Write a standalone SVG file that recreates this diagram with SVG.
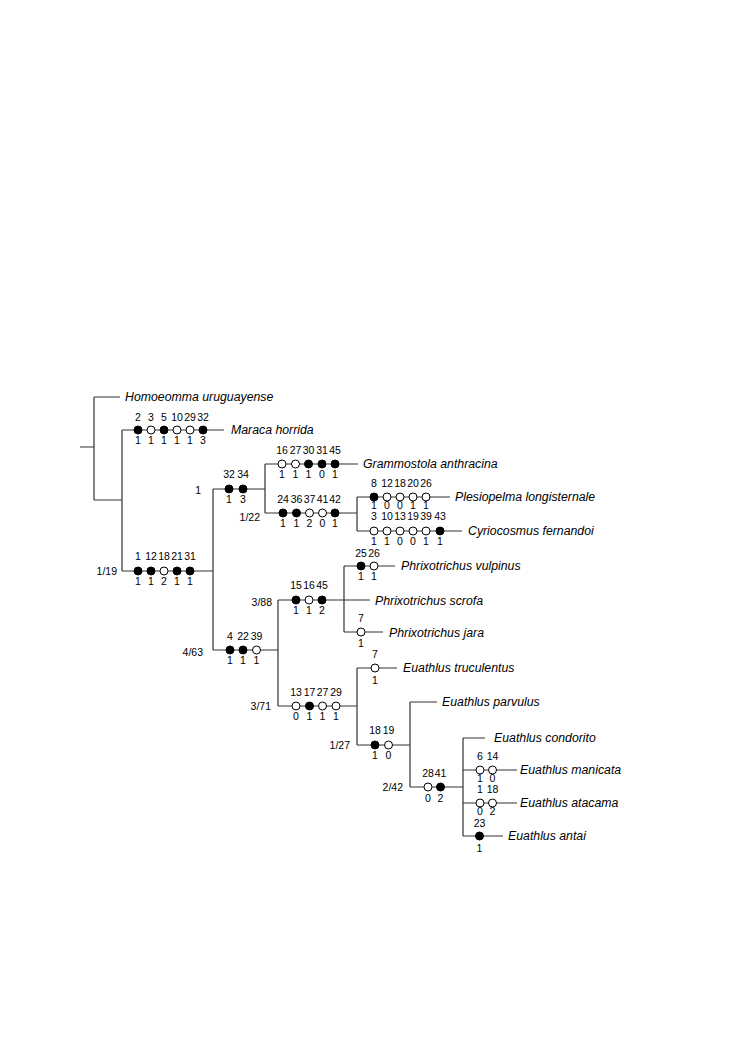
<svg xmlns="http://www.w3.org/2000/svg" width="740" height="1054" viewBox="0 0 740 1054">
<style>
.ln{fill:none;stroke:#333;stroke-width:1.2}
.f{fill:#000;stroke:#000;stroke-width:1}
.o{fill:#fff;stroke:#000;stroke-width:1}
.t{font-family:"Liberation Sans",Arial,sans-serif;font-style:italic;font-size:12.3px;fill:#000}
.n{font-family:"Liberation Sans",Arial,sans-serif;font-size:10.5px;fill:#000;text-anchor:middle}
.c{font-family:"Liberation Sans",Arial,sans-serif;font-size:10.5px;fill:#000;text-anchor:end}
</style>
<rect width="740" height="1054" fill="#fff"/>
<g id="connectors" class="ln">
<path d="M80,447H94M94,397V500M94,397H120M94,500H122M122,430V571M122,430H224M122,571H213"/>
<path d="M213,489V650M213,489H265M265,464V513M265,464H358M265,513H357M357,497V531M357,497H450M357,531H462"/>
<path d="M213,650H278M278,600V706M278,600H370M344,566V632M344,566H395M344,632H383"/>
<path d="M278,706H357M357,668V745M357,668H397M357,745H410M410,702V787M410,702H437M410,787H463"/>
<path d="M463,738V836M463,738H485M463,770H517M463,803H517M463,836H503"/>
</g>
<g id="homoeomma"><text class="t" x="125" y="401">Homoeomma uruguayense</text></g>
<g id="maraca">
<circle class="f" cx="138" cy="430" r="4"/><circle class="o" cx="151" cy="430" r="4"/><circle class="f" cx="164" cy="430" r="4"/><circle class="o" cx="177" cy="430" r="4"/><circle class="o" cx="190" cy="430" r="4"/><circle class="f" cx="203" cy="430" r="4"/>
<text class="n" y="421"><tspan x="138">2</tspan><tspan x="151">3</tspan><tspan x="164">5</tspan><tspan x="177">10</tspan><tspan x="190">29</tspan><tspan x="203">32</tspan></text>
<text class="n" y="444"><tspan x="138">1</tspan><tspan x="151">1</tspan><tspan x="164">1</tspan><tspan x="177">1</tspan><tspan x="190">1</tspan><tspan x="203">3</tspan></text>
<text class="t" x="231" y="434">Maraca horrida</text>
</g>
<g id="clade-1-19">
<circle class="f" cx="138" cy="571" r="4"/><circle class="f" cx="151" cy="571" r="4"/><circle class="o" cx="164" cy="571" r="4"/><circle class="f" cx="177" cy="571" r="4"/><circle class="f" cx="190" cy="571" r="4"/>
<text class="n" y="560"><tspan x="138">1</tspan><tspan x="151">12</tspan><tspan x="164">18</tspan><tspan x="177">21</tspan><tspan x="190">31</tspan></text>
<text class="n" y="585"><tspan x="138">1</tspan><tspan x="151">1</tspan><tspan x="164">2</tspan><tspan x="177">1</tspan><tspan x="190">1</tspan></text>
<text class="c" x="117" y="575">1/19</text>
</g>
<g id="clade-1">
<circle class="f" cx="229" cy="489" r="4"/><circle class="f" cx="243" cy="489" r="4"/>
<text class="n" y="478"><tspan x="229">32</tspan><tspan x="243">34</tspan></text>
<text class="n" y="503"><tspan x="229">1</tspan><tspan x="243">3</tspan></text>
<text class="c" x="201" y="494">1</text>
</g>
<g id="grammostola">
<circle class="o" cx="282" cy="464" r="4"/><circle class="o" cx="295.5" cy="464" r="4"/><circle class="f" cx="308.5" cy="464" r="4"/><circle class="f" cx="322" cy="464" r="4"/><circle class="f" cx="335" cy="464" r="4"/>
<text class="n" y="454"><tspan x="282">16</tspan><tspan x="295.5">27</tspan><tspan x="308.5">30</tspan><tspan x="322">31</tspan><tspan x="335">45</tspan></text>
<text class="n" y="478"><tspan x="282">1</tspan><tspan x="295.5">1</tspan><tspan x="308.5">1</tspan><tspan x="322">0</tspan><tspan x="335">1</tspan></text>
<text class="t" x="363" y="468">Grammostola anthracina</text>
</g>
<g id="clade-1-22">
<circle class="f" cx="283" cy="513" r="4"/><circle class="f" cx="296.5" cy="513" r="4"/><circle class="o" cx="309.5" cy="513" r="4"/><circle class="o" cx="322.5" cy="513" r="4"/><circle class="f" cx="335" cy="513" r="4"/>
<text class="n" y="503"><tspan x="283">24</tspan><tspan x="296.5">36</tspan><tspan x="309.5">37</tspan><tspan x="322.5">41</tspan><tspan x="335">42</tspan></text>
<text class="n" y="527"><tspan x="283">1</tspan><tspan x="296.5">1</tspan><tspan x="309.5">2</tspan><tspan x="322.5">0</tspan><tspan x="335">1</tspan></text>
<text class="c" x="260" y="521">1/22</text>
</g>
<g id="plesiopelma">
<circle class="f" cx="374" cy="497" r="4"/><circle class="o" cx="387" cy="497" r="4"/><circle class="o" cx="400" cy="497" r="4"/><circle class="o" cx="413" cy="497" r="4"/><circle class="o" cx="426" cy="497" r="4"/>
<text class="n" y="487"><tspan x="374">8</tspan><tspan x="387">12</tspan><tspan x="400">18</tspan><tspan x="413">20</tspan><tspan x="426">26</tspan></text>
<text class="n" y="509"><tspan x="374">1</tspan><tspan x="387">0</tspan><tspan x="400">0</tspan><tspan x="413">1</tspan><tspan x="426">1</tspan></text>
<text class="t" x="455" y="501">Plesiopelma longisternale</text>
</g>
<g id="cyriocosmus">
<circle class="o" cx="374" cy="531" r="4"/><circle class="o" cx="387" cy="531" r="4"/><circle class="o" cx="400" cy="531" r="4"/><circle class="o" cx="413" cy="531" r="4"/><circle class="o" cx="426" cy="531" r="4"/><circle class="f" cx="440" cy="531" r="4"/>
<text class="n" y="520"><tspan x="374">3</tspan><tspan x="387">10</tspan><tspan x="400">13</tspan><tspan x="413">19</tspan><tspan x="426">39</tspan><tspan x="440">43</tspan></text>
<text class="n" y="545"><tspan x="374">1</tspan><tspan x="387">1</tspan><tspan x="400">0</tspan><tspan x="413">0</tspan><tspan x="426">1</tspan><tspan x="440">1</tspan></text>
<text class="t" x="468" y="535">Cyriocosmus fernandoi</text>
</g>
<g id="clade-4-63">
<circle class="f" cx="230" cy="650" r="4"/><circle class="f" cx="243" cy="650" r="4"/><circle class="o" cx="256.5" cy="650" r="4"/>
<text class="n" y="640"><tspan x="230">4</tspan><tspan x="243">22</tspan><tspan x="256.5">39</tspan></text>
<text class="n" y="664"><tspan x="230">1</tspan><tspan x="243">1</tspan><tspan x="256.5">1</tspan></text>
<text class="c" x="203" y="656">4/63</text>
</g>
<g id="clade-3-88">
<circle class="f" cx="296" cy="600" r="4"/><circle class="o" cx="309" cy="600" r="4"/><circle class="f" cx="322" cy="600" r="4"/>
<text class="n" y="589"><tspan x="296">15</tspan><tspan x="309">16</tspan><tspan x="322">45</tspan></text>
<text class="n" y="614"><tspan x="296">1</tspan><tspan x="309">1</tspan><tspan x="322">2</tspan></text>
<text class="c" x="272" y="606">3/88</text>
</g>
<g id="vulpinus">
<circle class="f" cx="361" cy="566" r="4"/><circle class="o" cx="374" cy="566" r="4"/>
<text class="n" y="557"><tspan x="361">25</tspan><tspan x="374">26</tspan></text>
<text class="n" y="580"><tspan x="361">1</tspan><tspan x="374">1</tspan></text>
<text class="t" x="401" y="570">Phrixotrichus vulpinus</text>
</g>
<g id="scrofa"><text class="t" x="375" y="605">Phrixotrichus scrofa</text></g>
<g id="jara">
<circle class="o" cx="361" cy="632" r="4"/>
<text class="n" x="361" y="622">7</text>
<text class="n" x="361" y="647">1</text>
<text class="t" x="389" y="637">Phrixotrichus jara</text>
</g>
<g id="clade-3-71">
<circle class="o" cx="296" cy="706" r="4"/><circle class="f" cx="309.5" cy="706" r="4"/><circle class="o" cx="322.5" cy="706" r="4"/><circle class="o" cx="336" cy="706" r="4"/>
<text class="n" y="696"><tspan x="296">13</tspan><tspan x="309.5">17</tspan><tspan x="322.5">27</tspan><tspan x="336">29</tspan></text>
<text class="n" y="720"><tspan x="296">0</tspan><tspan x="309.5">1</tspan><tspan x="322.5">1</tspan><tspan x="336">1</tspan></text>
<text class="c" x="271" y="710">3/71</text>
</g>
<g id="truculentus">
<circle class="o" cx="375" cy="668" r="4"/>
<text class="n" x="375" y="658">7</text>
<text class="n" x="375" y="684">1</text>
<text class="t" x="403" y="672">Euathlus truculentus</text>
</g>
<g id="clade-1-27">
<circle class="f" cx="375" cy="745" r="4"/><circle class="o" cx="388.5" cy="745" r="4"/>
<text class="n" y="734"><tspan x="375">18</tspan><tspan x="388.5">19</tspan></text>
<text class="n" y="759"><tspan x="375">1</tspan><tspan x="388.5">0</tspan></text>
<text class="c" x="350" y="749">1/27</text>
</g>
<g id="parvulus"><text class="t" x="442" y="706">Euathlus parvulus</text></g>
<g id="clade-2-42">
<circle class="o" cx="428" cy="787" r="4"/><circle class="f" cx="440.5" cy="787" r="4"/>
<text class="n" y="777"><tspan x="428">28</tspan><tspan x="440.5">41</tspan></text>
<text class="n" y="802"><tspan x="428">0</tspan><tspan x="440.5">2</tspan></text>
<text class="c" x="403" y="791">2/42</text>
</g>
<g id="condorito"><text class="t" x="494" y="742">Euathlus condorito</text></g>
<g id="manicata">
<circle class="o" cx="480" cy="770" r="4"/><circle class="o" cx="492.5" cy="770" r="4"/>
<text class="n" y="760"><tspan x="480">6</tspan><tspan x="492.5">14</tspan></text>
<text class="n" y="782"><tspan x="480">1</tspan><tspan x="492.5">0</tspan></text>
<text class="t" x="520" y="774">Euathlus manicata</text>
</g>
<g id="atacama">
<circle class="o" cx="480" cy="803" r="4"/><circle class="o" cx="492.5" cy="803" r="4"/>
<text class="n" y="793"><tspan x="480">1</tspan><tspan x="492.5">18</tspan></text>
<text class="n" y="815"><tspan x="480">0</tspan><tspan x="492.5">2</tspan></text>
<text class="t" x="520" y="807">Euathlus atacama</text>
</g>
<g id="antai">
<circle class="f" cx="479.5" cy="836" r="4"/>
<text class="n" x="479.5" y="827">23</text>
<text class="n" x="479.5" y="852">1</text>
<text class="t" x="508" y="840">Euathlus antai</text>
</g>
</svg>
